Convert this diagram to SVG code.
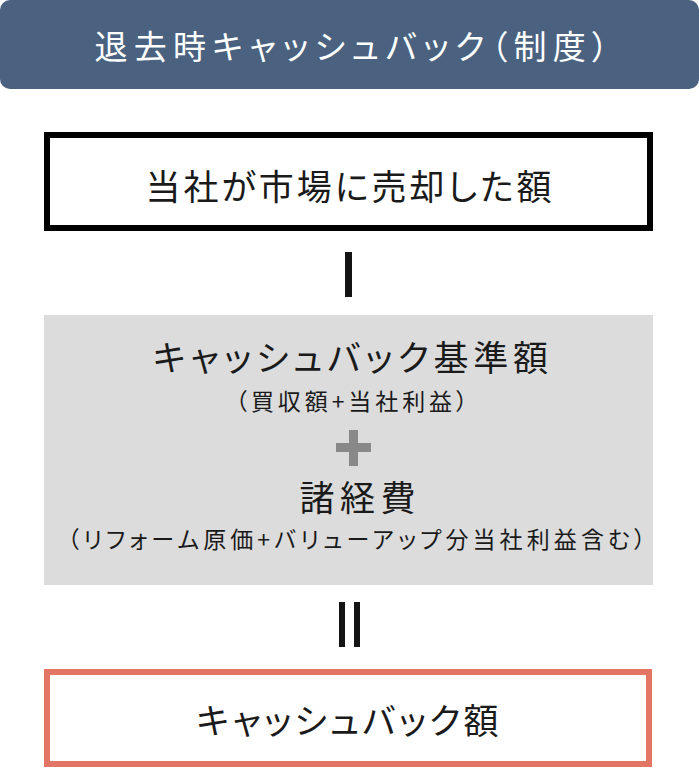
<svg xmlns="http://www.w3.org/2000/svg" width="699" height="768" viewBox="0 0 699 768">
<style>
text{font-family:"Noto Sans CJK JP","Noto Sans",sans-serif;text-anchor:middle;font-feature-settings:"palt"}
.hd{fill:#ffffff;font-size:33px}
.big{fill:#1a1a1a;font-size:35px}
.sm{fill:#1a1a1a;font-size:23px}
.box{fill:#ffffff;stroke-width:6}
</style>
<rect width="699" height="768" fill="#ffffff"/>
<g id="header">
<rect x="0" y="0" width="699" height="89" rx="10" fill="#4a6280"/>
<text class="hd" x="351.5" y="58.5" textLength="514" lengthAdjust="spacing">退去時キャッシュバック（制度）</text>
</g>
<g id="sale">
<rect class="box" x="47" y="135" width="603" height="93" stroke="#000000"/>
<text class="big" x="348.5" y="199.5" textLength="406" lengthAdjust="spacing">当社が市場に売却した額</text>
</g>
<g id="connectors">
<rect x="345" y="252" width="7" height="45" fill="#141414"/>
<rect x="339" y="602" width="6" height="45" fill="#141414"/>
<rect x="354" y="602" width="6" height="45" fill="#141414"/>
</g>
<g id="sum">
<rect x="44" y="315" width="609" height="270" fill="#dcdcdc"/>
<text class="big" x="350.5" y="371" textLength="395" lengthAdjust="spacing">キャッシュバック基準額</text>
<text class="sm" x="351.5" y="410" textLength="232" lengthAdjust="spacing">（買収額+当社利益）</text>
<rect x="336" y="443" width="35" height="9" fill="#888888"/>
<rect x="349" y="430" width="9" height="36" fill="#888888"/>
<text class="big" x="357.5" y="511" textLength="116" lengthAdjust="spacing">諸経費</text>
<text class="sm" x="356.5" y="548" textLength="578" lengthAdjust="spacing">（リフォーム原価+バリューアップ分当社利益含む）</text>
</g>
<g id="cashback">
<rect class="box" x="47" y="672" width="602" height="92" stroke="#e27563"/>
<text class="big" x="347.5" y="734" textLength="302" lengthAdjust="spacing">キャッシュバック額</text>
</g>
</svg>
